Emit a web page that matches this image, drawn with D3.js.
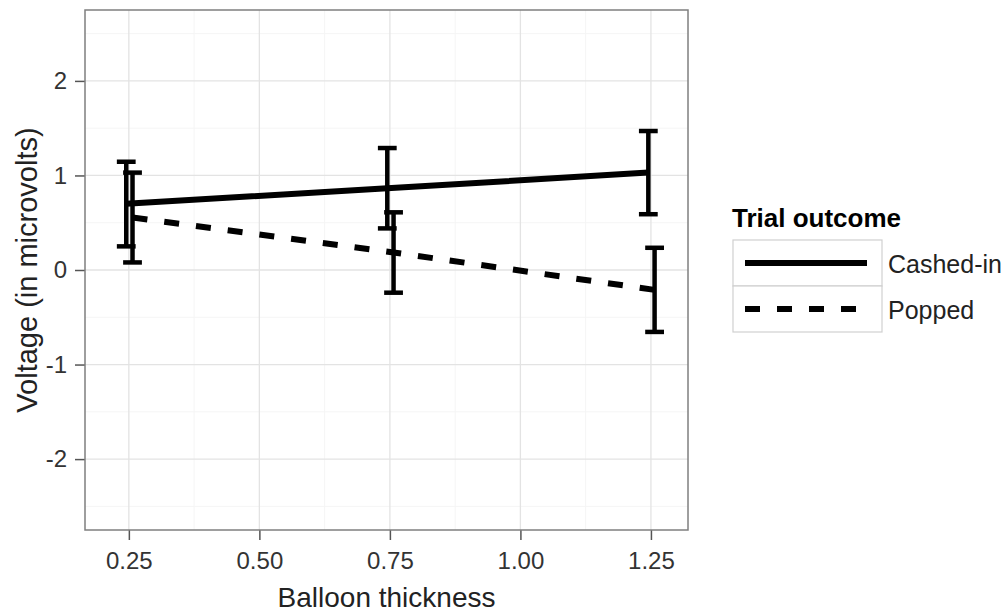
<!DOCTYPE html>
<html>
<head>
<meta charset="utf-8">
<script src="https://cdn.jsdelivr.net/npm/d3@7"></script>
<style>
  body { margin: 0; background: #fff; }
  text { font-family: "Liberation Sans", Arial, sans-serif; }
</style>
</head>
<body>
<div id="chart"></div>
<script>
'use strict';

const thickness = [0.25, 0.75, 1.25];
const outcomes = ['Cashed-in', 'Popped'];
const dodge = [-0.005, 0.007];

const cashedMean = [0.70, 0.865, 1.03];
const cashedLow = [0.25, 0.44, 0.59];
const cashedHigh = [1.145, 1.29, 1.47];

const poppedMean = [0.555, 0.185, -0.21];
const poppedLow = [0.08, -0.24, -0.655];
const poppedHigh = [1.03, 0.61, 0.235];

const xTicks = [0.25, 0.50, 0.75, 1.00, 1.25];
const xMinor = [0.375, 0.625, 0.875, 1.125];
const yTicks = [-2, -1, 0, 1, 2];
const yMinor = [-2.5, -1.5, -0.5, 0.5, 1.5, 2.5];

let width = 1008,
    height = 613,
    pLeft = 85, pRight = 688, pTop = 10, pBottom = 530;

let x = d3.scaleLinear().domain([0.166, 1.321]).range([pLeft, pRight]);
let y = d3.scaleLinear().domain([-2.75, 2.75]).range([pBottom, pTop]);

let series = [
  {name: outcomes[0], dash: null, mean: cashedMean, low: cashedLow, high: cashedHigh, off: dodge[0]},
  {name: outcomes[1], dash: '15,17', mean: poppedMean, low: poppedLow, high: poppedHigh, off: dodge[1]}
];

let svg = d3.select('#chart')
  .append('svg')
    .attr('width', width)
    .attr('height', height);

// grid
svg.append('g').selectAll('line')
  .data(yMinor)
  .enter().append('line')
    .attr('x1', pLeft).attr('x2', pRight)
    .attr('y1', d => y(d)).attr('y2', d => y(d))
    .attr('stroke', '#f5f5f5').attr('stroke-width', 1);

svg.append('g').selectAll('line')
  .data(xMinor)
  .enter().append('line')
    .attr('y1', pTop).attr('y2', pBottom)
    .attr('x1', d => x(d)).attr('x2', d => x(d))
    .attr('stroke', '#f5f5f5').attr('stroke-width', 1);

svg.append('g').selectAll('line')
  .data(yTicks)
  .enter().append('line')
    .attr('x1', pLeft).attr('x2', pRight)
    .attr('y1', d => y(d)).attr('y2', d => y(d))
    .attr('stroke', '#e3e3e3').attr('stroke-width', 1.3);

svg.append('g').selectAll('line')
  .data(xTicks)
  .enter().append('line')
    .attr('y1', pTop).attr('y2', pBottom)
    .attr('x1', d => x(d)).attr('x2', d => x(d))
    .attr('stroke', '#e3e3e3').attr('stroke-width', 1.3);

// axes
let xAxis = svg.append('g')
  .attr('transform', 'translate(0,' + pBottom + ')')
  .call(d3.axisBottom(x).tickValues(xTicks).tickFormat(d3.format('.2f')).tickSize(10).tickPadding(12));

let yAxis = svg.append('g')
  .attr('transform', 'translate(' + pLeft + ',0)')
  .call(d3.axisLeft(y).tickValues(yTicks).tickFormat(d => String(d)).tickSize(10).tickPadding(8));

[xAxis, yAxis].forEach(a => {
  a.select('.domain').remove();
  a.selectAll('.tick line').attr('stroke', '#555').attr('stroke-width', 1.5);
  a.selectAll('.tick text')
    .attr('fill', '#333')
    .style('font-size', '24px')
    .style('font-family', '"Liberation Sans", Arial, sans-serif');
});

// data
let line = d3.line()
  .x((d, i) => x(thickness[i] + d.off))
  .y(d => y(d.v));

let ebHalf = 0.018;

series.forEach(s => {
  let pts = s.mean.map(v => ({v: v, off: s.off}));

  svg.append('path')
    .attr('d', line(pts))
    .attr('fill', 'none')
    .attr('stroke', '#000')
    .attr('stroke-width', 6)
    .attr('stroke-dasharray', s.dash);

  let g = svg.append('g').attr('stroke', '#000').attr('stroke-width', 4.5);
  thickness.forEach((t, i) => {
    let cx = x(t + s.off);
    g.append('line')
      .attr('x1', cx).attr('x2', cx)
      .attr('y1', y(s.high[i])).attr('y2', y(s.low[i]));
    g.append('line')
      .attr('x1', x(t + s.off - ebHalf)).attr('x2', x(t + s.off + ebHalf))
      .attr('y1', y(s.high[i])).attr('y2', y(s.high[i]));
    g.append('line')
      .attr('x1', x(t + s.off - ebHalf)).attr('x2', x(t + s.off + ebHalf))
      .attr('y1', y(s.low[i])).attr('y2', y(s.low[i]));
  });
});

// panel border
svg.append('rect')
  .attr('x', pLeft).attr('y', pTop)
  .attr('width', pRight - pLeft).attr('height', pBottom - pTop)
  .attr('fill', 'none')
  .attr('stroke', '#7f7f7f')
  .attr('stroke-width', 1.5);

// titles
svg.append('text')
  .attr('x', (pLeft + pRight) / 2)
  .attr('y', 607)
  .attr('text-anchor', 'middle')
  .style('font-size', '28px')
  .attr('fill', '#222')
  .text('Balloon thickness');

svg.append('text')
  .attr('transform', 'translate(37,' + ((pTop + pBottom) / 2) + ') rotate(-90)')
  .attr('text-anchor', 'middle')
  .style('font-size', '29px')
  .attr('fill', '#222')
  .text('Voltage (in microvolts)');

// legend
let legend = svg.append('g').attr('transform', 'translate(733,240)');

legend.append('text')
  .attr('x', -1)
  .attr('y', -13)
  .style('font-size', '26px')
  .style('font-weight', 'bold')
  .text('Trial outcome');

series.forEach((s, i) => {
  let k = legend.append('g').attr('transform', 'translate(0,' + (i * 46) + ')');
  k.append('rect')
    .attr('width', 149).attr('height', 46)
    .attr('fill', '#fff')
    .attr('stroke', '#d0d0d0')
    .attr('stroke-width', 1.2);
  k.append('line')
    .attr('x1', 12).attr('x2', 134)
    .attr('y1', 23).attr('y2', 23)
    .attr('stroke', '#000')
    .attr('stroke-width', 6)
    .attr('stroke-dasharray', s.dash);
  k.append('text')
    .attr('x', 155)
    .attr('y', 33)
    .style('font-size', '25px')
    .attr('fill', '#222')
    .text(s.name);
});
</script>
</body>
</html>
